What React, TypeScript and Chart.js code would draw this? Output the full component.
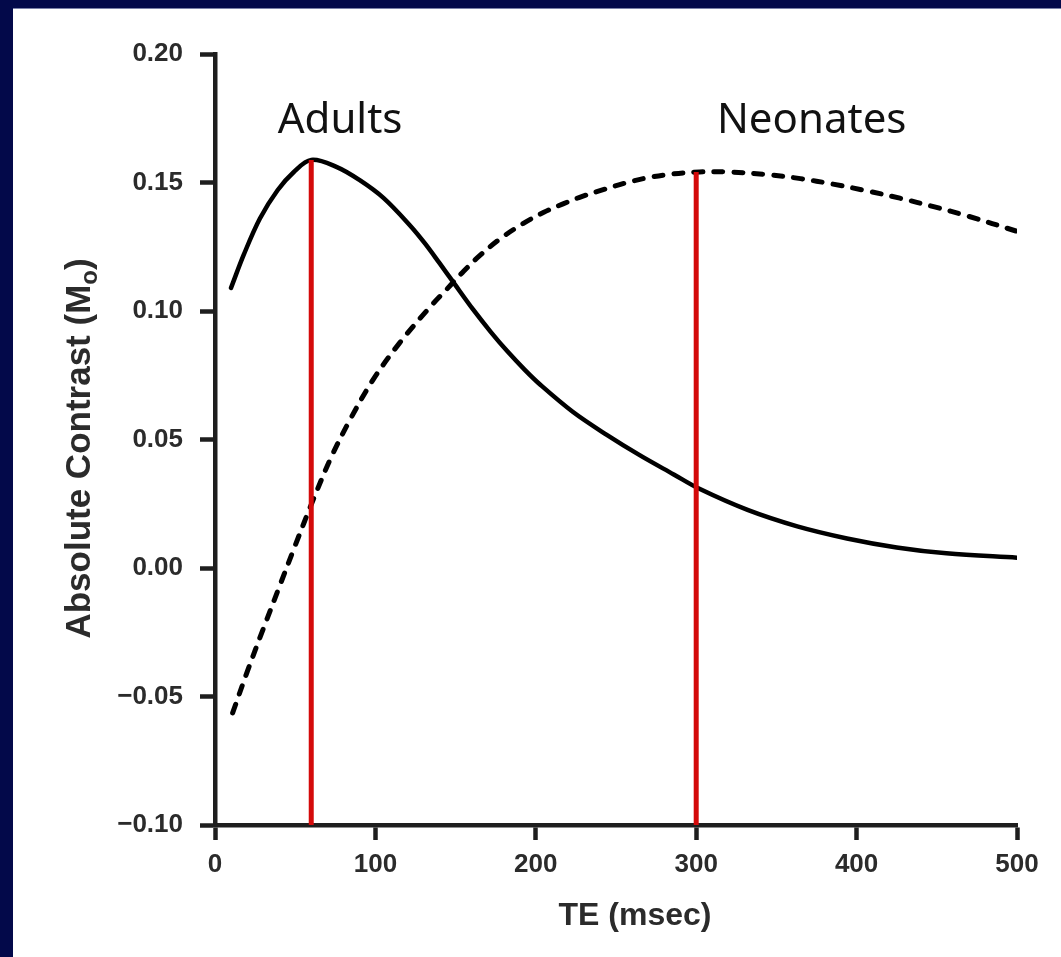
import React, { useEffect, useRef } from 'react';
import { Chart, registerables } from 'chart.js';

Chart.register(...registerables);

// ---- data ----
const adultsTE = [10, 18, 28, 39, 49, 60, 76, 90, 105, 122, 131, 140, 148, 161, 172, 182, 193, 203, 223, 244, 265, 286, 302, 332, 363, 394, 425, 456, 500];
const adultsContrast = [0.109, 0.122, 0.136, 0.147, 0.154, 0.1588, 0.156, 0.151, 0.144, 0.133, 0.1262, 0.1186, 0.1117, 0.1005, 0.0918, 0.0845, 0.0772, 0.0712, 0.0608, 0.0519, 0.0438, 0.0364, 0.0308, 0.0226, 0.0162, 0.0115, 0.008, 0.0057, 0.004];

const neonatesTE = [11, 20, 30, 40, 50, 61, 72, 84, 98.5, 115, 134, 145, 155, 165, 178, 192, 205, 217, 229, 242, 257, 270, 285, 302, 320, 344, 365, 385, 406, 427, 448, 469, 500];
const neonatesContrast = [-0.0564, -0.0405, -0.0238, -0.0075, 0.0088, 0.0262, 0.0425, 0.0575, 0.0732, 0.0875, 0.1015, 0.1088, 0.1155, 0.1215, 0.1282, 0.134, 0.1384, 0.1417, 0.1446, 0.1472, 0.15, 0.1519, 0.1533, 0.1541, 0.1541, 0.1531, 0.1515, 0.1494, 0.1468, 0.1439, 0.1406, 0.137, 0.131];

const markerTE = [60, 300];
const markerPeak = [0.1588, 0.1541];

const xTickValues = [0, 100, 200, 300, 400, 500];
const xTickLabels = ['0', '100', '200', '300', '400', '500'];
const yTickValues = [-0.1, -0.05, 0, 0.05, 0.1, 0.15, 0.2];
const yTickLabels = ['\u22120.10', '\u22120.05', '0.00', '0.05', '0.10', '0.15', '0.20'];

const groupLabels = ['Adults', 'Neonates'];
const groupLabelTE = [78, 372];
const groupLabelContrast = [0.1693, 0.1693];

const xTitle = 'TE (msec)';
const yTitleMain = 'Absolute Contrast (M';
const yTitleSub = 'o';
const yTitleEnd = ')';

const NAVY = '#03094a';
const AXIS = '#1e1e1e';
const TICK_TEXT = '#2b2b2b';
const RED = '#d40a0a';

const decorPlugin = {
  id: 'decor',
  afterDraw(chart: any) {
    const ctx = chart.ctx as CanvasRenderingContext2D;
    const xs = chart.scales.x;
    const ys = chart.scales.y;
    const area = chart.chartArea;
    ctx.save();
    // group labels
    ctx.fillStyle = '#111111';
    ctx.font = '42px "Noto Sans", "Open Sans", sans-serif';
    ctx.textAlign = 'center';
    ctx.textBaseline = 'alphabetic';
    groupLabels.forEach((t, i) => {
      ctx.fillText(t, xs.getPixelForValue(groupLabelTE[i]), ys.getPixelForValue(groupLabelContrast[i]));
    });
    // x title
    ctx.fillStyle = TICK_TEXT;
    ctx.font = 'bold 32px "Liberation Sans", Arial, sans-serif';
    ctx.textBaseline = 'middle';
    ctx.fillText(xTitle, area.left + 420, area.bottom + 91);
    // y title with subscript
    const mainFont = 'bold 35px "Liberation Sans", Arial, sans-serif';
    const subFont = 'bold 24px "Liberation Sans", Arial, sans-serif';
    ctx.font = mainFont;
    const w1 = ctx.measureText(yTitleMain).width;
    const w3 = ctx.measureText(yTitleEnd).width;
    ctx.font = subFont;
    const w2 = ctx.measureText(yTitleSub).width;
    const total = w1 + w2 + w3;
    ctx.translate(67, (area.top + area.bottom) / 2 + 9);
    ctx.rotate(-Math.PI / 2);
    ctx.textAlign = 'left';
    ctx.textBaseline = 'middle';
    let x0 = -total / 2;
    ctx.font = mainFont;
    ctx.fillText(yTitleMain, x0, 0);
    x0 += w1;
    ctx.font = subFont;
    ctx.fillText(yTitleSub, x0, 10);
    x0 += w2;
    ctx.font = mainFont;
    ctx.fillText(yTitleEnd, x0, 0);
    ctx.restore();
  },
};

export default function App() {
  const canvasRef = useRef<HTMLCanvasElement | null>(null);

  useEffect(() => {
    document.body.style.margin = '0';
    const canvas = canvasRef.current;
    if (!canvas) return;
    const toPoints = (xsArr: number[], ysArr: number[]) => xsArr.map((x, i) => ({ x, y: ysArr[i] }));
    const markerSets = markerTE.map((te, i) => ({
      label: 'marker' + i,
      data: [{ x: te, y: markerPeak[i] }, { x: te, y: yTickValues[0] }],
      borderColor: RED,
      borderWidth: 5,
      pointRadius: 0,
      order: 0,
    }));
    const chart = new Chart(canvas, {
      type: 'line',
      data: {
        datasets: [
          ...markerSets,
          {
            label: 'Adults',
            data: toPoints(adultsTE, adultsContrast),
            borderColor: '#000000',
            borderWidth: 4.5,
            pointRadius: 0,
            tension: 0.35,
            borderCapStyle: 'round',
            order: 1,
          },
          {
            label: 'Neonates',
            data: toPoints(neonatesTE, neonatesContrast),
            borderColor: '#000000',
            borderWidth: 5,
            borderDash: [9, 11],
            borderCapStyle: 'round',
            pointRadius: 0,
            tension: 0.35,
            order: 1,
          },
        ] as any,
      },
      options: {
        responsive: false,
        animation: false,
        devicePixelRatio: 1,
        layout: { padding: { top: 45, right: 44, left: 0, bottom: 0 } },
        plugins: { legend: { display: false }, tooltip: { enabled: false } },
        scales: {
          x: {
            type: 'linear',
            min: 0,
            max: 500,
            afterBuildTicks: (scale: any) => {
              scale.ticks = xTickValues.map((v) => ({ value: v }));
            },
            afterFit: (scale: any) => {
              scale.height = 132;
            },
            border: { display: true, width: 4.5, color: AXIS },
            grid: { display: true, drawOnChartArea: false, drawTicks: true, tickLength: 15, tickWidth: 4.5, tickColor: AXIS },
            ticks: {
              padding: 9,
              color: TICK_TEXT,
              font: { family: '"Liberation Sans", Arial, sans-serif', size: 26, weight: 'bold' },
              maxRotation: 0,
              autoSkip: false,
              callback: (_v: any, i: number) => xTickLabels[i],
            },
          },
          y: {
            type: 'linear',
            min: -0.1,
            max: 0.2,
            afterBuildTicks: (scale: any) => {
              scale.ticks = yTickValues.map((v) => ({ value: v }));
            },
            afterFit: (scale: any) => {
              scale.width = 202;
            },
            border: { display: true, width: 4.5, color: AXIS },
            grid: { display: true, drawOnChartArea: false, drawTicks: true, tickLength: 15, tickWidth: 4.5, tickColor: AXIS },
            ticks: {
              padding: 17,
              color: TICK_TEXT,
              font: { family: '"Liberation Sans", Arial, sans-serif', size: 26, weight: 'bold' },
              autoSkip: false,
              callback: (_v: any, i: number) => yTickLabels[i],
            },
          },
        },
      } as any,
      plugins: [decorPlugin],
    });
    return () => chart.destroy();
  }, []);

  return (
    <div style={{ position: 'relative', width: 1061, height: 957, background: NAVY, overflow: 'hidden' }}>
      <div style={{ position: 'absolute', left: 13, top: 8, width: 1048, height: 1, background: '#7a80a8' }} />
      <canvas
        ref={canvasRef}
        width={1048}
        height={948}
        style={{ position: 'absolute', left: 13, top: 9, width: 1048, height: 948, background: '#ffffff' }}
      />
    </div>
  );
}
